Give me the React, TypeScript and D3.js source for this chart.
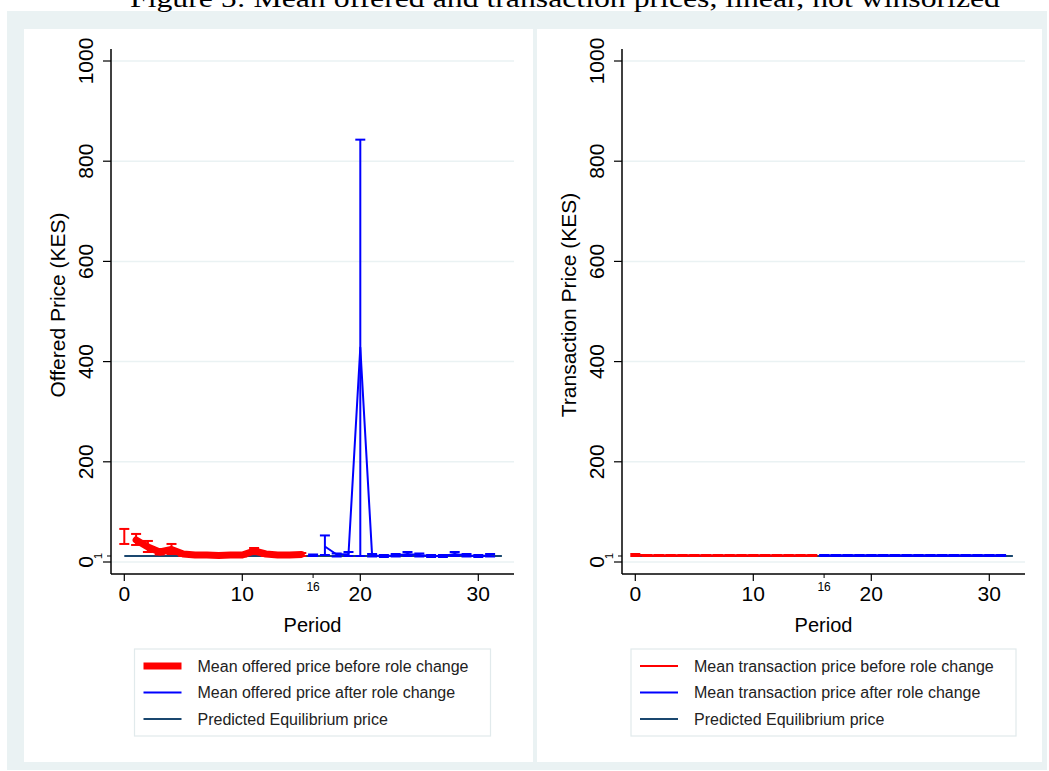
import React from 'react';
import * as d3 from 'd3';

// periods
const periodsBefore = [0, 1, 2, 3, 4, 5, 6, 7, 8, 9, 10, 11, 12, 13, 14, 15];
const periodsAfter = [16, 17, 18, 19, 20, 21, 22, 23, 24, 25, 26, 27, 28, 29, 30, 31];

// offered prices (KES), mean with CI bounds (first period of each phase has no connected mean)
const offeredBeforeMean = [null, 44, 30, 20, 25, 16, 14, 14, 13, 14, 14, 22, 16, 14, 14, 15];
const offeredBeforeLo = [36, 34, 20, 15, 16, 12, 11, 11, 11, 11, 11, 16, 12, 11, 11, 12];
const offeredBeforeHi = [66, 56, 42, 26, 36, 20, 17, 17, 16, 17, 17, 28, 20, 17, 17, 18];
const offeredAfterMean = [null, 31, 15, 16, 428, 13, 12, 13, 16, 14, 12, 12, 16, 13, 12, 13];
const offeredAfterLo = [12, 14, 11, 12, 12, 11, 10, 11, 12, 11, 10, 10, 12, 11, 10, 11];
const offeredAfterHi = [15, 53, 17, 20, 843, 16, 14, 16, 20, 17, 14, 14, 20, 16, 14, 16];

// transaction prices (KES)
const transBeforeMean = [14, 13, 13, 13, 13, 13, 13, 13, 13, 13, 13, 13, 13, 13, 13, 13];
const transBeforeLo = [12, 12, 12, 12, 12, 12, 12, 12, 12, 12, 12, 12, 12, 12, 12, 12];
const transBeforeHi = [16, 14, 14, 14, 14, 14, 14, 14, 14, 14, 14, 14, 14, 14, 14, 14];
const transAfterMean = [13, 13, 13, 13, 13, 13, 13, 13, 13, 13, 13, 13, 13, 13, 13, 13];
const transAfterLo = [12, 12, 12, 12, 12, 12, 12, 12, 12, 12, 12, 12, 12, 12, 12, 12];
const transAfterHi = [14, 14, 14, 14, 14, 14, 14, 14, 14, 14, 14, 14, 14, 14, 14, 14];

// predicted equilibrium
const eqPrice = 12;
const eqSpan = [0, 32];

const yTicks = [0, 200, 400, 600, 800, 1000];
const xTicks = [0, 10, 20, 30];
const roleChangePeriod = 16;
const eqTickLabel = '1';

const RED = '#ff0000';
const BLUE = '#0000ff';
const NAVY = '#1a476f';
const GRID = '#eaf2f3';
const FONT = '"Liberation Sans", Arial, Helvetica, sans-serif';

type Series = { periods: number[]; mean: (number | null)[]; lo: number[]; hi: number[]; color: string; width: number };

function Panel({ dx, yTitle, series, legend, legendW }: { dx: number; yTitle: string; series: Series[]; legend: { label: string; color: string; width: number }[]; legendW: number }) {
  const axisX = 111 + dx;
  const plotRight = 514 + dx;
  const plotTop = 49;
  const axisY = 574;
  const x = d3.scaleLinear().domain([0, 30]).range([124.3 + dx, 478.3 + dx]);
  const y = d3.scaleLinear().domain([0, 1000]).range([562, 61]);
  const cx = (axisX + plotRight) / 2;
  const line = d3
    .line<[number, number | null]>()
    .defined((d) => d[1] != null)
    .x((d) => x(d[0]))
    .y((d) => y(d[1] as number));
  const legX = cx - legendW / 2;

  return (
    <g fontFamily={FONT}>
      {yTicks.map((t) => (
        <line key={'g' + t} x1={axisX} x2={plotRight} y1={y(t)} y2={y(t)} stroke={GRID} strokeWidth={1.5} />
      ))}
      {/* equilibrium */}
      <line x1={x(eqSpan[0])} x2={x(eqSpan[1])} y1={y(eqPrice)} y2={y(eqPrice)} stroke={NAVY} strokeWidth={2} />
      {series.map((s, si) => (
        <g key={si}>
          {s.periods.map((p, i) => (
            <g key={p} stroke={s.color} strokeWidth={2}>
              <line x1={x(p)} x2={x(p)} y1={y(s.lo[i])} y2={y(s.hi[i])} />
              <line x1={x(p) - 5} x2={x(p) + 5} y1={y(s.lo[i])} y2={y(s.lo[i])} />
              <line x1={x(p) - 5} x2={x(p) + 5} y1={y(s.hi[i])} y2={y(s.hi[i])} />
            </g>
          ))}
          <path
            d={line(s.periods.map((p, i) => [p, s.mean[i]]) as [number, number | null][]) || ''}
            fill="none"
            stroke={s.color}
            strokeWidth={s.width}
            strokeLinejoin="round"
            strokeLinecap={s.width > 3 ? 'round' : 'butt'}
          />
        </g>
      ))}
      {/* axes */}
      <line x1={axisX} x2={axisX} y1={plotTop} y2={axisY} stroke="#000" strokeWidth={1.5} />
      <line x1={axisX} x2={plotRight} y1={axisY} y2={axisY} stroke="#000" strokeWidth={1.5} />
      {yTicks.map((t) => (
        <g key={'y' + t}>
          <line x1={axisX - 8} x2={axisX} y1={y(t)} y2={y(t)} stroke="#000" strokeWidth={1.2} />
          <text transform={`translate(${axisX - 18},${y(t)}) rotate(-90)`} textAnchor="middle" fontSize={21}>
            {t}
          </text>
        </g>
      ))}
      <line x1={axisX - 4} x2={axisX} y1={y(eqPrice)} y2={y(eqPrice)} stroke="#000" strokeWidth={1} />
      <text transform={`translate(${axisX - 9},${y(eqPrice)}) rotate(-90)`} textAnchor="middle" fontSize={11}>
        {eqTickLabel}
      </text>
      {xTicks.map((t) => (
        <g key={'x' + t}>
          <line x1={x(t)} x2={x(t)} y1={axisY} y2={axisY + 7} stroke="#000" strokeWidth={1.2} />
          <text x={x(t)} y={axisY + 27} textAnchor="middle" fontSize={21}>
            {t}
          </text>
        </g>
      ))}
      <line x1={x(roleChangePeriod)} x2={x(roleChangePeriod)} y1={axisY} y2={axisY + 4} stroke="#000" strokeWidth={1} />
      <text x={x(roleChangePeriod)} y={axisY + 17} textAnchor="middle" fontSize={12}>
        {roleChangePeriod}
      </text>
      <text x={cx} y={632} textAnchor="middle" fontSize={20}>
        Period
      </text>
      <text transform={`translate(${axisX - 46},305) rotate(-90)`} textAnchor="middle" fontSize={21}>
        {yTitle}
      </text>
      {/* legend */}
      <rect x={legX} y={649} width={legendW} height={87} fill="#fff" stroke="#e1eaec" strokeWidth={1.2} />
      {legend.map((l, i) => (
        <g key={i}>
          <line x1={legX + 9} x2={legX + 47} y1={666 + i * 26.5} y2={666 + i * 26.5} stroke={l.color} strokeWidth={l.width} />
          <text x={legX + 63} y={671.5 + i * 26.5} fontSize={16} fill="#222">
            {l.label}
          </text>
        </g>
      ))}
    </g>
  );
}

export default function App() {
  return (
    <div style={{ position: 'absolute', left: 0, top: 0 }}>
      <svg width={1049} height={771} style={{ display: 'block' }}>
        <rect width={1049} height={771} fill="#fff" />
        <rect x={7} y={11} width={1040} height={759} fill={GRID} />
        <rect x={24} y={29} width={509} height={733} fill="#fff" />
        <rect x={537} y={29} width={505} height={733} fill="#fff" />
        <text x={565} y={7} textAnchor="middle" fontFamily='"Liberation Serif", "DejaVu Serif", serif' fontSize={26} textLength={870} lengthAdjust="spacingAndGlyphs">
          Figure 5: Mean offered and transaction prices, linear, not winsorized
        </text>
        <Panel
          dx={0}
          yTitle="Offered Price (KES)"
          legendW={356}
          series={[
            { periods: periodsBefore, mean: offeredBeforeMean, lo: offeredBeforeLo, hi: offeredBeforeHi, color: RED, width: 7 },
            { periods: periodsAfter, mean: offeredAfterMean, lo: offeredAfterLo, hi: offeredAfterHi, color: BLUE, width: 2 },
          ]}
          legend={[
            { label: 'Mean offered price before role change', color: RED, width: 7 },
            { label: 'Mean offered price after role change', color: BLUE, width: 2 },
            { label: 'Predicted Equilibrium price', color: NAVY, width: 2 },
          ]}
        />
        <Panel
          dx={511}
          yTitle="Transaction Price (KES)"
          legendW={385}
          series={[
            { periods: periodsBefore, mean: transBeforeMean, lo: transBeforeLo, hi: transBeforeHi, color: RED, width: 2.5 },
            { periods: periodsAfter, mean: transAfterMean, lo: transAfterLo, hi: transAfterHi, color: BLUE, width: 2.5 },
          ]}
          legend={[
            { label: 'Mean transaction price before role change', color: RED, width: 2 },
            { label: 'Mean transaction price after role change', color: BLUE, width: 2 },
            { label: 'Predicted Equilibrium price', color: NAVY, width: 2 },
          ]}
        />
      </svg>
    </div>
  );
}
